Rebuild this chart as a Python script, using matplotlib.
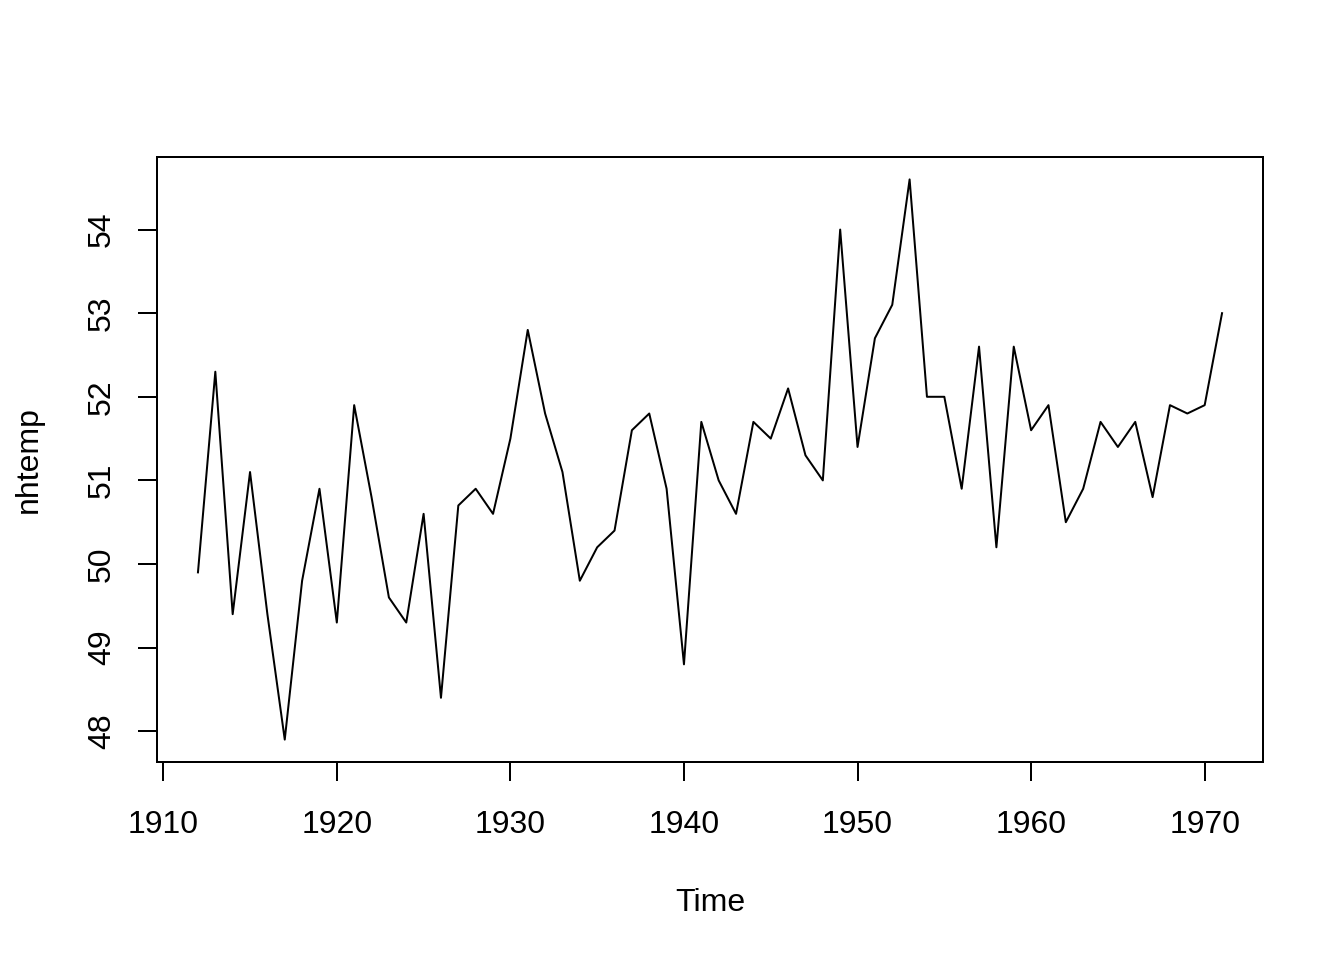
import matplotlib
matplotlib.use('Agg')
import matplotlib.pyplot as plt
import numpy as np

years = np.arange(1912, 1972)
nhtemp = [49.9, 52.3, 49.4, 51.1, 49.4, 47.9, 49.8, 50.9, 49.3, 51.9,
          50.8, 49.6, 49.3, 50.6, 48.4, 50.7, 50.9, 50.6, 51.5, 52.8,
          51.8, 51.1, 49.8, 50.2, 50.4, 51.6, 51.8, 50.9, 48.8, 51.7,
          51.0, 50.6, 51.7, 51.5, 52.1, 51.3, 51.0, 54.0, 51.4, 52.7,
          53.1, 54.6, 52.0, 52.0, 50.9, 52.6, 50.2, 52.6, 51.6, 51.9,
          50.5, 50.9, 51.7, 51.4, 51.7, 50.8, 51.9, 51.8, 51.9, 53.0]
x_ticks = [1910, 1920, 1930, 1940, 1950, 1960, 1970]
y_ticks = [48, 49, 50, 51, 52, 53, 54]

plt.rcParams['font.family'] = ['Liberation Sans', 'DejaVu Sans']
plt.rcParams['font.size'] = 12

fig = plt.figure(figsize=(7, 5), dpi=192)
ax = fig.add_axes([157 / 1344, 1 - 762 / 960, (1263 - 157) / 1344, (762 - 157) / 960])
ax.plot(years, nhtemp, color='black', linewidth=0.75)

# R-style 4% extension of the data range
xr = years[-1] - years[0]
yr = max(nhtemp) - min(nhtemp)
ax.set_xlim(years[0] - 0.04 * xr, years[-1] + 0.04 * xr)
ax.set_ylim(min(nhtemp) - 0.04 * yr, max(nhtemp) + 0.04 * yr)

ax.set_xticks(x_ticks)
ax.set_yticks(y_ticks)
ax.set_yticklabels([str(v) for v in y_ticks], rotation=90, va='center')
ax.tick_params(axis='both', direction='out', length=7, width=0.75, labelsize=12, colors='black')
ax.tick_params(axis='x', pad=11)
ax.tick_params(axis='y', pad=8)
for s in ax.spines.values():
    s.set_linewidth(0.75)

ax.set_xlabel('Time', fontsize=12, labelpad=18)
ax.set_ylabel('nhtemp', fontsize=12, labelpad=16)

fig.savefig('out.png', dpi=192, facecolor='white')
